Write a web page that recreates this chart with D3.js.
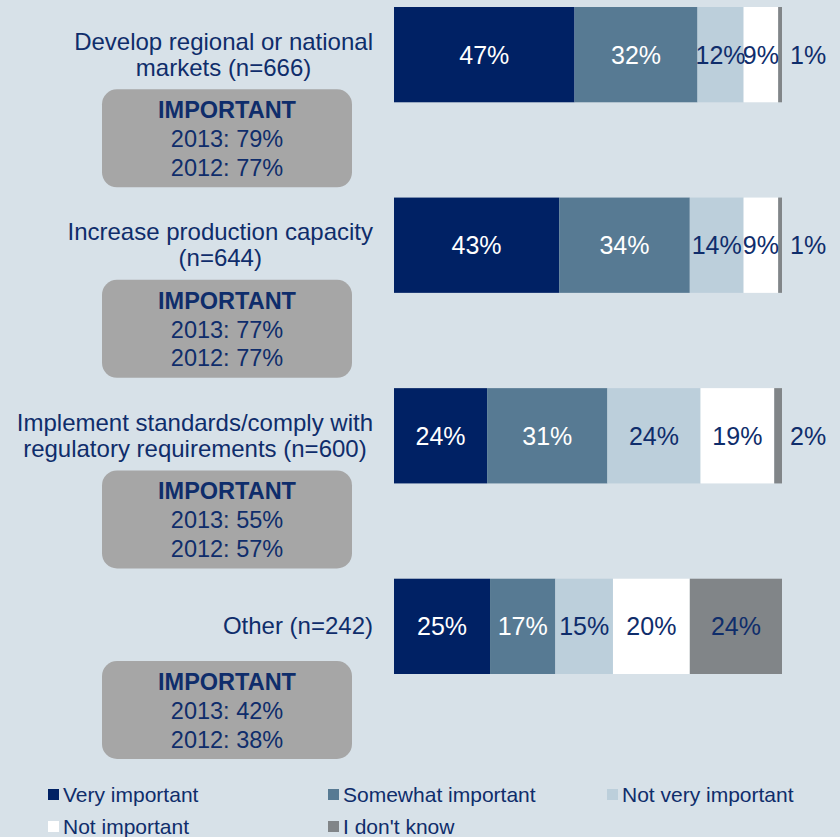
<!DOCTYPE html>
<html>
<head>
<meta charset="utf-8">
<script src="https://cdn.jsdelivr.net/npm/d3@7"></script>
<style>
body { margin: 0; background: #d7e1e8; }
svg { display: block; font-family: "Liberation Sans", Arial, sans-serif; }
</style>
</head>
<body>
<svg id="svg-main" width="840" height="837"></svg>
<script>
// data
var categories = [
	["Develop regional or national", "markets (n=666)"],
	["Increase production capacity", "(n=644)"],
	["Implement standards/comply with", "regulatory requirements (n=600)"],
	["Other (n=242)"]
];
var seriesNames = ["Very important", "Somewhat important", "Not very important", "Not important", "I don't know"];
var veryImportant = [47, 43, 24, 25];
var somewhatImportant = [32, 34, 31, 17];
var notVeryImportant = [12, 14, 24, 15];
var notImportant = [9, 9, 19, 20];
var dontKnow = [1, 1, 2, 24];
var important2013 = [79, 77, 55, 42];
var important2012 = [77, 77, 57, 38];

var colors = ["#002164", "#577a93", "#bccfdb", "#ffffff", "#818588"];
var textColor = "#0f2d6b";

var svg = d3.select("#svg-main");

var rows = categories.map(function(c, i) {
	return {
		key: i,
		s0: veryImportant[i],
		s1: somewhatImportant[i],
		s2: notVeryImportant[i],
		s3: notImportant[i],
		s4: dontKnow[i]
	};
});
var keys = ["s0", "s1", "s2", "s3", "s4"];

var stack = d3.stack().keys(keys).offset(d3.stackOffsetExpand);
var layers = stack(rows);

var x = d3.scaleLinear().domain([0, 1]).range([394, 782]);
var y = d3.scaleBand().domain(d3.range(categories.length)).range([7, 674]).paddingInner(0.5).paddingOuter(0);

//bars
var layer = svg.selectAll(".layer")
	.data(layers)
	.enter().append("g")
	.attr("class", "layer")
	.attr("fill", function(d, i) { return colors[i]; });

layer.selectAll("rect")
	.data(function(d) { return d; })
	.enter().append("rect")
	.attr("x", function(d) { return x(d[0]); })
	.attr("y", function(d) { return y(d.data.key); })
	.attr("width", function(d) { return x(d[1]) - x(d[0]); })
	.attr("height", y.bandwidth());

//value labels
layers.forEach(function(l, li) {
	svg.selectAll(".val-" + li)
		.data(l)
		.enter().append("text")
		.attr("class", "val-" + li)
		.attr("x", function(d) {
			var v = d.data[l.key];
			if(v < 5) return x(1) + 8;
			return (x(d[0]) + x(d[1])) / 2;
		})
		.attr("y", function(d) { return y(d.data.key) + y.bandwidth() / 2 + 9; })
		.attr("text-anchor", function(d) { return d.data[l.key] < 5 ? "start" : "middle"; })
		.attr("font-size", "25px")
		.attr("fill", li < 2 ? "#ffffff" : textColor)
		.text(function(d) { return d.data[l.key] + "%"; });
});

//category labels: block right aligned, lines centered
var labelRight = 373;
categories.forEach(function(lines, i) {
	var g = svg.append("g");
	var cy = y(i) + y.bandwidth() / 2;
	var t = g.selectAll("text")
		.data(lines)
		.enter().append("text")
		.attr("font-size", "24px")
		.attr("fill", textColor)
		.attr("text-anchor", "middle")
		.attr("y", function(d, j) { return cy + 8 + (j - (lines.length - 1) / 2) * 26; })
		.text(function(d) { return d; });
	var maxW = 0;
	t.each(function() { maxW = Math.max(maxW, this.getComputedTextLength()); });
	t.attr("x", labelRight - maxW / 2);

	//important box
	var top = y(i) + y.bandwidth() - 13;
	svg.append("rect")
		.attr("x", 102)
		.attr("y", top)
		.attr("width", 250)
		.attr("height", 98)
		.attr("rx", 15)
		.attr("fill", "#a6a6a6");
	var bx = 227;
	svg.append("text")
		.attr("x", bx).attr("y", top + 29)
		.attr("text-anchor", "middle")
		.attr("font-size", "23.5px")
		.attr("font-weight", "bold")
		.attr("fill", textColor)
		.text("IMPORTANT");
	svg.append("text")
		.attr("x", bx).attr("y", top + 58)
		.attr("text-anchor", "middle")
		.attr("font-size", "23.5px")
		.attr("fill", textColor)
		.text("2013: " + important2013[i] + "%");
	svg.append("text")
		.attr("x", bx).attr("y", top + 86.5)
		.attr("text-anchor", "middle")
		.attr("font-size", "23.5px")
		.attr("fill", textColor)
		.text("2012: " + important2012[i] + "%");
});

//legend
var legendX = [48, 328, 607];
var legend = svg.selectAll(".legend")
	.data(seriesNames)
	.enter().append("g")
	.attr("class", "legend")
	.attr("transform", function(d, i) {
		return "translate(" + legendX[i % 3] + " " + (789 + Math.floor(i / 3) * 32) + ")";
	});
legend.append("rect")
	.attr("width", 11)
	.attr("height", 11)
	.attr("fill", function(d, i) { return colors[i]; });
legend.append("text")
	.attr("x", 15)
	.attr("y", 13)
	.attr("font-size", "21px")
	.attr("fill", textColor)
	.text(function(d) { return d; });
</script>
</body>
</html>
